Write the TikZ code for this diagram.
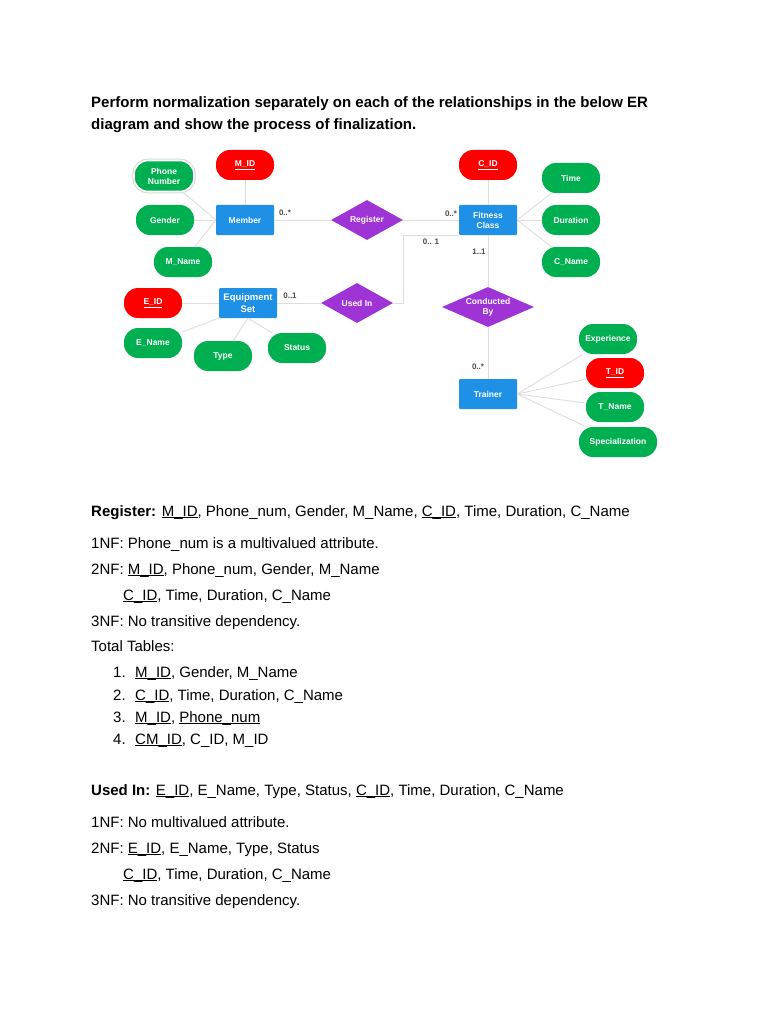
\documentclass[tikz,border=0pt]{standalone}
\usepackage{fontspec}
\setmainfont{Liberation Sans}
\usetikzlibrary{shapes.geometric}

\definecolor{attrgreen}{RGB}{0,176,80}
\definecolor{keyred}{RGB}{255,0,0}
\definecolor{entblue}{RGB}{30,144,229}
\definecolor{relpurple}{RGB}{158,52,214}
\definecolor{linkgray}{RGB}{222,222,222}

\newcommand{\erfont}{\fontsize{8.5}{10}\selectfont\bfseries}
\newcommand{\bodyfont}{\fontsize{15}{18}\selectfont}
\newcommand{\titlefont}{\fontsize{15}{18}\selectfont\bfseries}
\newcommand{\keyname}[1]{\underline{\smash{#1}}}

\tikzset{
  attr/.style={rectangle, rounded corners=14pt, fill=attrgreen, text=white,
    font=\erfont, minimum width=58pt, minimum height=30pt, inner sep=1pt,
    align=center},
  keyattr/.style={attr, fill=keyred},
  picked/.style={preaction={draw=gray!30, line width=3.6pt}, draw=white,
    line width=1.6pt},
  entity/.style={rectangle, rounded corners=1pt, fill=entblue, text=white,
    font=\erfont, minimum width=58pt, minimum height=30pt, inner sep=1pt,
    align=center},
  rel/.style={diamond, fill=relpurple, text=white, font=\erfont,
    minimum width=72pt, minimum height=40pt, aspect=1.8, inner sep=0pt,
    align=center},
  link/.style={draw=linkgray, line width=0.9pt},
  card/.style={font=\fontsize{8}{9}\selectfont\bfseries, text=black!70,
    inner sep=0pt},
  body/.style={font=\bodyfont, anchor=base west, inner sep=0pt}
}

\begin{document}
\begin{tikzpicture}[x=1pt,y=-1pt]
\fill [white] (0,0) rectangle (768,1024);
\useasboundingbox (0,0) rectangle (768,1024);

% question
\node [body, font=\titlefont] (q1) at (91,108) {Perform normalization separately on each of the relationships in the below ER};
\node [body, font=\titlefont] (q2) at (91,130) {diagram and show the process of finalization.};

% ER diagram
\node [attr, picked, minimum width=60pt, minimum height=31pt] (phone) at (164,176) {Phone\\Number};
\node [keyattr] (mid) at (245,165) {\underline{M\_ID}};
\node [attr] (gender) at (165,220) {Gender};
\node [entity] (member) at (245,220) {Member};
\node [attr] (mname) at (183,262) {M\_Name};
\node [rel] (register) at (367,220) {Register};
\node [entity] (fitness) at (488,220) {Fitness\\Class};
\node [keyattr] (cid) at (488,165) {\underline{C\_ID}};
\node [attr] (time) at (571,178) {Time};
\node [attr] (duration) at (571,220) {Duration};
\node [attr] (cname) at (571,262) {C\_Name};
\node [entity, font=\fontsize{9.5}{11.5}\selectfont\bfseries] (equip) at (248,303) {Equipment\\Set};
\node [keyattr] (eid) at (153,303) {\underline{E\_ID}};
\node [attr] (ename) at (153,343) {E\_Name};
\node [attr] (type) at (223,356) {Type};
\node [attr] (status) at (297,348) {Status};
\node [rel] (usedin) at (357,303) {Used In};
\node [rel, aspect=2.3, minimum width=92pt] (conducted) at (488,307) {Conducted\\By};
\node [entity] (trainer) at (488,394) {Trainer};
\node [attr] (exper) at (608,339) {Experience};
\node [keyattr] (tid) at (615,373) {\underline{T\_ID}};
\node [attr] (tname) at (615,407) {T\_Name};
\node [attr, minimum width=78pt] (spec) at (618,442) {Specialization};

\begin{scope}[on background layer/.try]
\draw [link] (member) -- (mid);
\draw [link] (member.west) -- (phone);
\draw [link] (member) -- (gender);
\draw [link] (member.west) -- (mname);
\draw [link] (member) -- (register);
\draw [link] (register) -- (fitness);
\draw [link] (fitness) -- (cid);
\draw [link] (fitness.east) -- (time);
\draw [link] (fitness.east) -- (duration);
\draw [link] (fitness.east) -- (cname);
\draw [link] (fitness) -- (conducted);
\draw [link] (conducted) -- (trainer);
\draw [link] (usedin.east) -- ++(10,0) |- (fitness.south west);
\draw [link] (equip) -- (usedin);
\draw [link] (equip) -- (eid);
\draw [link] (ename) -- (equip.south west);
\draw [link] (type) -- (equip.south);
\draw [link] (status) -- (equip.south);
\draw [link] (trainer.east) -- (exper);
\draw [link] (trainer.east) -- (tid);
\draw [link] (trainer.east) -- (tname);
\draw [link] (trainer.east) -- (spec);
\end{scope}

\node [card] (c1) at (285,213) {0..*};
\node [card] (c2) at (451,214) {0..*};
\node [card] (c3) at (431,242) {0.. 1};
\node [card] (c4) at (479,252) {1..1};
\node [card] (c5) at (290,296) {0..1};
\node [card] (c6) at (478,367) {0..*};

% Register
\node [body] (r0) at (91,516) {\textbf{Register:} \keyname{M\_ID}, Phone\_num, Gender, M\_Name, \keyname{C\_ID}, Time, Duration, C\_Name};
\node [body] (r1) at (91,548) {1NF: Phone\_num is a multivalued attribute.};
\node [body] (r2) at (91,574) {2NF: \keyname{M\_ID}, Phone\_num, Gender, M\_Name};
\node [body] (r3) at (123,600) {\keyname{C\_ID}, Time, Duration, C\_Name};
\node [body] (r4) at (91,626) {3NF: No transitive dependency.};
\node [body] (r5) at (91,651) {Total Tables:};
\node [body] (n1) at (113,677) {1.};
\node [body] (t1) at (135,677) {\keyname{M\_ID}, Gender, M\_Name};
\node [body] (n2) at (113,700) {2.};
\node [body] (t2) at (135,700) {\keyname{C\_ID}, Time, Duration, C\_Name};
\node [body] (n3) at (113,722) {3.};
\node [body] (t3) at (135,722) {\keyname{M\_ID}, \keyname{Phone\_num}};
\node [body] (n4) at (113,744) {4.};
\node [body] (t4) at (135,744) {\keyname{CM\_ID}, C\_ID, M\_ID};

% Used In
\node [body] (u0) at (91,795) {\textbf{Used In:} \keyname{E\_ID}, E\_Name, Type, Status, \keyname{C\_ID}, Time, Duration, C\_Name};
\node [body] (u1) at (91,827) {1NF: No multivalued attribute.};
\node [body] (u2) at (91,853) {2NF: \keyname{E\_ID}, E\_Name, Type, Status};
\node [body] (u3) at (123,879) {\keyname{C\_ID}, Time, Duration, C\_Name};
\node [body] (u4) at (91,905) {3NF: No transitive dependency.};
\end{tikzpicture}
\end{document}
